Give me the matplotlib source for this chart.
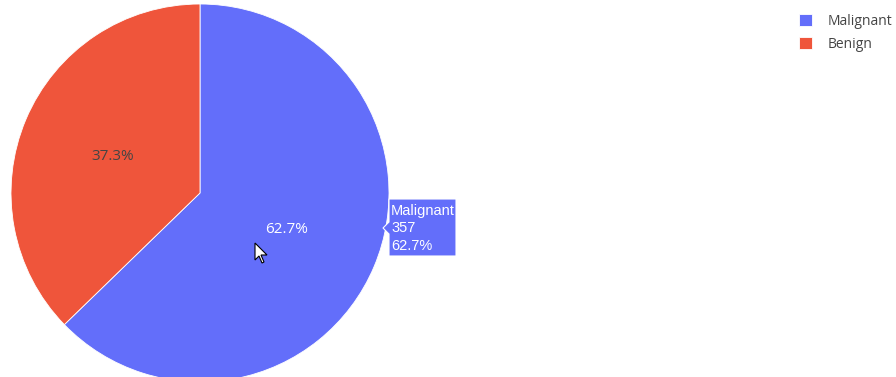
import matplotlib

matplotlib.use('Agg')
import matplotlib.pyplot as plt
from matplotlib.patches import Polygon

labels = ['Malignant', 'Benign']
counts = [357, 212]
colors = ['#636EFA', '#EF553B']
pct_colors = ['white', '#444444']

W, H = 896, 377
fig = plt.figure(figsize=(W / 100, H / 100), dpi=100)
ax = fig.add_axes([0, 0, 1, 1])

# pie in pixel units, y measured from the top of the image
cx, cy, r = 200, 193, 189
wedges, texts, autotexts = ax.pie(
    counts, colors=colors, startangle=90, counterclock=False,
    center=(cx, H - cy), radius=r, autopct='%1.1f%%', pctdistance=0.5,
    wedgeprops={'edgecolor': 'white', 'linewidth': 0.6},
    textprops={'fontsize': 11, 'family': 'Open Sans'})
for t, c in zip(autotexts, pct_colors):
    t.set_color(c)

ax.set_xlim(0, W)
ax.set_ylim(0, H)
ax.set_aspect('auto')
ax.axis('off')

# hover box for the first slice
total = sum(counts)
hx0, hy0, hx1, hy1 = 389, 199, 456, 256
box = Polygon([(hx0, H - hy0), (hx1, H - hy0), (hx1, H - hy1), (hx0, H - hy1),
               (hx0, H - 234), (hx0 - 6, H - 228), (hx0, H - 222)],
              closed=True, facecolor=colors[0], edgecolor='white', linewidth=0.8, zorder=5)
ax.add_patch(box)
hover_lines = [labels[0], f'{counts[0]}', f'{counts[0] / total * 100:.1f}%']
for i, line in enumerate(hover_lines):
    ax.text(hx0 + 2, H - (211 + i * 17.5), line, color='white', fontsize=10.5,
            family='Liberation Sans', va='center', ha='left', zorder=6)

# mouse pointer
px, py = 255, 243
arrow = [(0, 0), (0, 17), (4, 13), (7, 20), (9, 19), (6, 12), (12, 12)]
ax.add_patch(Polygon([(px + dx, H - (py + dy)) for dx, dy in arrow], closed=True,
                     facecolor='white', edgecolor='black', linewidth=0.8, zorder=7))

leg = ax.legend(wedges, labels, loc='upper left', bbox_to_anchor=(799 / W, 1 - 14 / H),
                frameon=False, fontsize=10, handlelength=0.95, handleheight=0.95,
                handletextpad=1.1, labelspacing=0.55, borderaxespad=0, borderpad=0)
for t in leg.get_texts():
    t.set_color('#444444')
    t.set_family('Open Sans')

plt.savefig('out.png', dpi=100)
plt.close()
